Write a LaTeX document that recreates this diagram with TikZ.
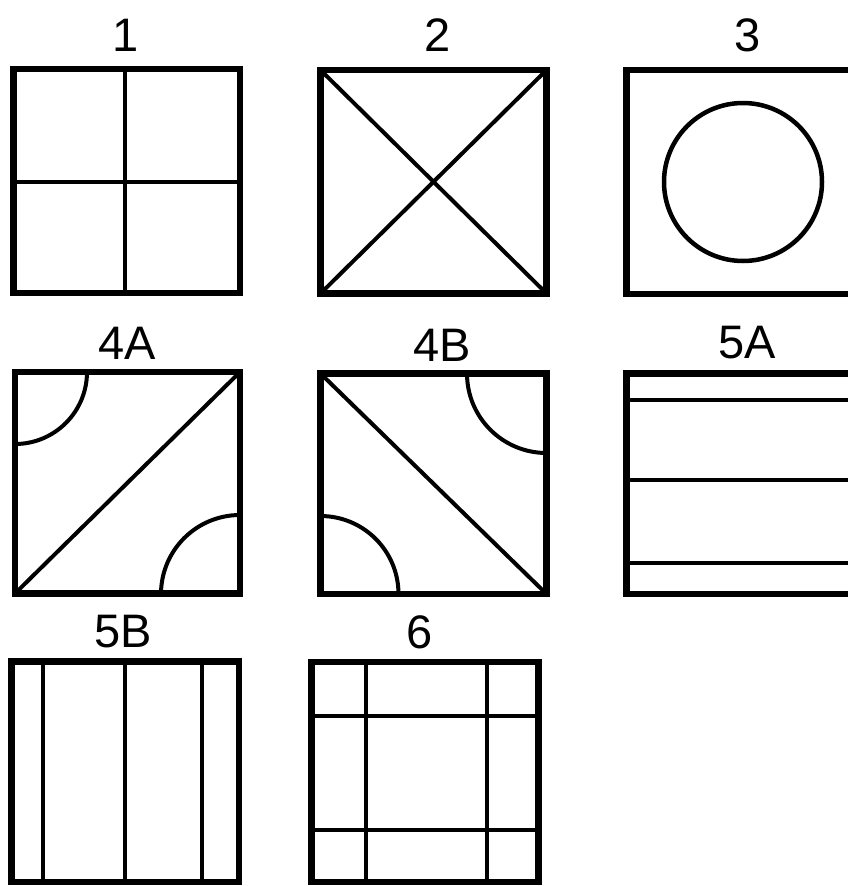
\documentclass[tikz,border=0pt]{standalone}
\usepackage{fontspec}
\setmainfont{Liberation Sans}
\begin{document}
\begin{tikzpicture}[x=1pt,y=-1pt,
  frame/.style={line width=6.5pt,line join=miter},
  inner/.style={line width=4pt},
  lab/.style={font=\fontsize{47}{47}\selectfont,inner sep=0pt,anchor=center}]
\useasboundingbox (0,0) rectangle (848,886);
\clip (0,0) rectangle (848,886);
% labels
\node[lab] (l1) at (126,35) {1};
\node[lab] (l2) at (438,35) {2};
\node[lab] (l3) at (748,35) {3};
\node[lab] (l4a) at (127,343) {4A};
\node[lab] (l4b) at (442,345) {4B};
\node[lab] (l5a) at (747,343) {5A};
\node[lab] (l5b) at (123,632) {5B};
\node[lab] (l6) at (420,632) {6};
% box 1
\draw[inner] (125,69) -- (125,293);
\draw[inner] (13.5,182) -- (240,182);
\draw[frame] (13.5,69) rectangle (240,293);
% box 2
\draw[inner] (320.5,70) -- (546.5,293.5);
\draw[inner] (320.5,293.5) -- (546.5,70);
\draw[frame] (320.5,70) rectangle (546.5,293.5);
% box 3
\draw[inner,line width=4.5pt] (743,182) circle (79);
\draw[frame] (626.5,70) rectangle (853,294);
% box 4A
\draw[inner] (15,593.5) -- (240,372);
\draw[inner] (87,372) arc[start angle=0,end angle=90,radius=72];
\draw[inner] (240,515) arc[start angle=-90,end angle=-180,radius=79];
\draw[frame] (15,372) rectangle (240,593.5);
% box 4B
\draw[inner] (320.5,373.5) -- (546.5,594);
\draw[inner] (467,373.5) arc[start angle=180,end angle=90,radius=79.5];
\draw[inner] (320.5,516) arc[start angle=-90,end angle=0,radius=78];
\draw[frame] (320.5,373.5) rectangle (546.5,594);
% box 5A
\draw[inner] (626.5,400) -- (853,400);
\draw[inner] (626.5,480) -- (853,480);
\draw[inner] (626.5,563) -- (853,563);
\draw[frame] (626.5,373.5) rectangle (853,594);
% box 5B
\draw[inner] (43,661.5) -- (43,882);
\draw[inner] (125,661.5) -- (125,882);
\draw[inner] (202,661.5) -- (202,882);
\draw[frame] (11.5,661.5) rectangle (239,882);
% box 6
\draw[inner] (366,662) -- (366,882);
\draw[inner] (487,662) -- (487,882);
\draw[inner] (311.5,716) -- (538.5,716);
\draw[inner] (311.5,830) -- (538.5,830);
\draw[frame] (311.5,662) rectangle (538.5,882);
\end{tikzpicture}
\end{document}
